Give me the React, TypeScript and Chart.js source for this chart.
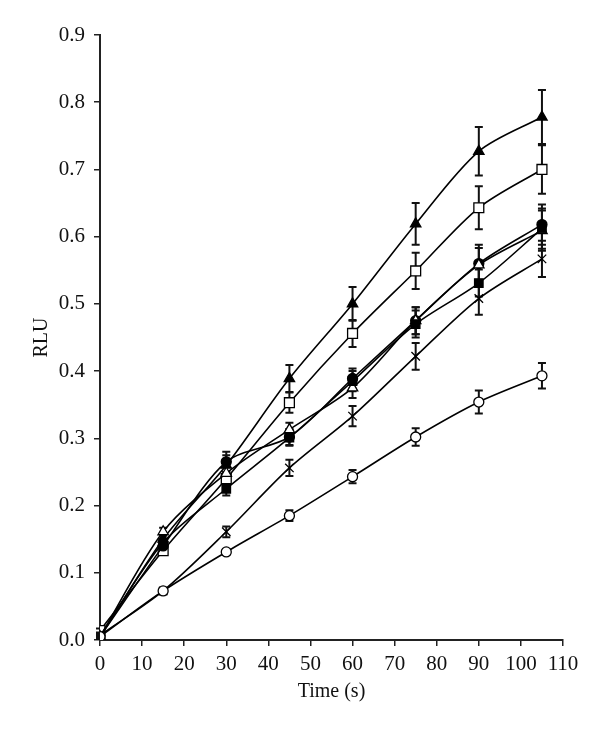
import React, { useEffect, useRef } from "react";
import { Chart, registerables } from "chart.js";

Chart.register(...registerables);

const times = [0, 15, 30, 45, 60, 75, 90, 105];

const filledTriangle = [0.005, 0.15, 0.26, 0.389, 0.5, 0.619, 0.727, 0.778];
const filledTriangleErr = [0.003, 0.008, 0.015, 0.02, 0.025, 0.031, 0.036, 0.04];

const openSquare = [0.014, 0.133, 0.24, 0.353, 0.456, 0.549, 0.643, 0.7];
const openSquareErr = [0.003, 0.006, 0.01, 0.015, 0.02, 0.027, 0.032, 0.036];

const filledCircle = [0.005, 0.14, 0.265, 0.302, 0.389, 0.475, 0.56, 0.618];
const filledCircleErr = [0.003, 0.006, 0.015, 0.012, 0.015, 0.02, 0.028, 0.03];

const openTriangle = [0.005, 0.161, 0.248, 0.313, 0.375, 0.475, 0.558, 0.609];
const openTriangleErr = [0.003, 0.006, 0.01, 0.01, 0.015, 0.02, 0.025, 0.03];

const filledSquare = [0.005, 0.145, 0.225, 0.301, 0.385, 0.47, 0.531, 0.612];
const filledSquareErr = [0.003, 0.005, 0.01, 0.012, 0.015, 0.02, 0.02, 0.03];

const crossSeries = [0.007, 0.073, 0.161, 0.256, 0.333, 0.422, 0.508, 0.567];
const crossErr = [0.002, 0.004, 0.008, 0.012, 0.015, 0.02, 0.024, 0.027];

const openCircle = [0.005, 0.073, 0.131, 0.185, 0.243, 0.302, 0.354, 0.393];
const openCircleErr = [0.002, 0.003, 0.004, 0.008, 0.01, 0.013, 0.017, 0.019];

const yTicks = [0, 0.1, 0.2, 0.3, 0.4, 0.5, 0.6, 0.7, 0.8, 0.9];
const xTicks = [0, 10, 20, 30, 40, 50, 60, 70, 80, 90, 100, 110];

const FONT = "'Liberation Serif', 'DejaVu Serif', serif";

const errorBarPlugin = {
  id: "errorBars",
  beforeDatasetsDraw(chart: any) {
    const ctx = chart.ctx;
    const xs = chart.scales.x;
    const ys = chart.scales.y;
    ctx.save();
    ctx.strokeStyle = "#111";
    ctx.lineWidth = 2;
    chart.data.datasets.forEach((ds: any) => {
      const errs: number[] = ds.errors || [];
      ds.data.forEach((p: any, i: number) => {
        const e = errs[i];
        if (!e) return;
        const x = xs.getPixelForValue(p.x);
        const y1 = ys.getPixelForValue(p.y + e);
        const y2 = ys.getPixelForValue(p.y - e);
        ctx.beginPath();
        ctx.moveTo(x, y1);
        ctx.lineTo(x, y2);
        ctx.moveTo(x - 4, y1);
        ctx.lineTo(x + 4, y1);
        ctx.moveTo(x - 4, y2);
        ctx.lineTo(x + 4, y2);
        ctx.stroke();
      });
    });
    ctx.restore();
  },
};

function mk(label: string, vals: number[], errs: number[], style: string, fill: boolean, radius: number) {
  return {
    label,
    data: times.map((t, i) => ({ x: t, y: vals[i] })),
    errors: errs,
    borderColor: "#000",
    backgroundColor: fill ? "#000" : "#fff",
    pointBackgroundColor: fill ? "#000" : "#fff",
    pointBorderColor: "#000",
    pointBorderWidth: 1.3,
    pointStyle: style,
    pointRadius: radius,
    borderWidth: 1.6,
    tension: 0.3,
    fill: false,
  };
}

export default function App() {
  const ref = useRef<HTMLCanvasElement | null>(null);
  useEffect(() => {
    if (!ref.current) return;
    const chart = new Chart(ref.current, {
      type: "line",
      data: {
        datasets: [
          mk("open circle", openCircle, openCircleErr, "circle", false, 5) as any,
          mk("cross", crossSeries, crossErr, "crossRot", false, 6) as any,
          mk("filled square", filledSquare, filledSquareErr, "rect", true, 6) as any,
          mk("open triangle", openTriangle, openTriangleErr, "triangle", false, 6) as any,
          mk("filled circle", filledCircle, filledCircleErr, "circle", true, 5) as any,
          mk("open square", openSquare, openSquareErr, "rect", false, 7) as any,
          mk("filled triangle", filledTriangle, filledTriangleErr, "triangle", true, 6) as any,
        ],
      },
      options: {
        animation: false,
        responsive: false,
        maintainAspectRatio: false,
        layout: { padding: { left: 0, right: 37, top: 35, bottom: 0 } },
        plugins: { legend: { display: false }, tooltip: { enabled: false } },
        scales: {
          x: {
            type: "linear",
            min: 0,
            max: 110,
            afterFit: (s: any) => {
              s.height = 96;
            },
            afterBuildTicks: (s: any) => {
              s.ticks = xTicks.map((v) => ({ value: v }));
            },
            ticks: {
              color: "#111",
              font: { family: FONT, size: 21 },
              padding: 6,
              maxRotation: 0,
              callback: (v: any) => String(v),
            },
            grid: { display: true, drawOnChartArea: false, drawTicks: true, tickLength: 6, color: "#222", lineWidth: 1.5 },
            border: { display: true, color: "#222", width: 2 },
            title: {
              display: true,
              text: "Time (s)",
              color: "#111",
              font: { family: FONT, size: 20 },
              padding: { top: 0, bottom: 32 },
            },
          },
          y: {
            type: "linear",
            min: 0,
            max: 0.9,
            afterFit: (s: any) => {
              s.width = 100;
            },
            afterBuildTicks: (s: any) => {
              s.ticks = yTicks.map((v) => ({ value: v }));
            },
            ticks: {
              color: "#111",
              font: { family: FONT, size: 21 },
              padding: 9,
              callback: (v: any) => Number(v).toFixed(1),
            },
            grid: { display: true, drawOnChartArea: false, drawTicks: true, tickLength: 6, color: "#222", lineWidth: 1.5 },
            border: { display: true, color: "#222", width: 2 },
            title: {
              display: true,
              text: "RLU",
              color: "#111",
              font: { family: FONT, size: 20 },
              padding: { top: 30, bottom: 0 },
            },
          },
        },
      } as any,
      plugins: [errorBarPlugin],
    });
    return () => chart.destroy();
  }, []);
  return (
    <div style={{ position: "fixed", left: 0, top: 0, width: 600, height: 736, background: "#fff" }}>
      <canvas ref={ref} width={600} height={736} style={{ width: 600, height: 736 }} />
    </div>
  );
}
